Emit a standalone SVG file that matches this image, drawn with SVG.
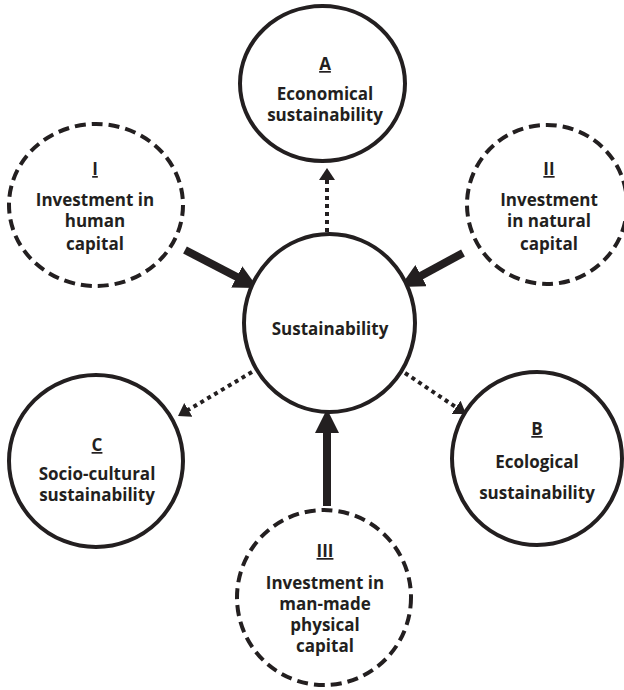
<svg xmlns="http://www.w3.org/2000/svg" width="624" height="690" viewBox="0 0 624 690">
<style>
  .solid { fill: #ffffff; stroke: #231f20; stroke-width: 4; }
  .dashed { fill: #ffffff; stroke: #231f20; stroke-width: 4; stroke-dasharray: 11 6; }
  .lbl { font-family: "Open Sans", "Noto Sans", "Liberation Sans", sans-serif; font-weight: 700; font-size: 17px; fill: #231f20; text-anchor: middle; }
  .u { text-decoration: underline; }
  .thick { stroke: #231f20; stroke-width: 8; fill: none; marker-end: url(#bigArrow); }
  .dots { stroke: #231f20; stroke-width: 4; stroke-dasharray: 4 4; fill: none; marker-end: url(#smallArrow); }
</style>
<defs>
  <marker id="bigArrow" viewBox="0 0 24 24" refX="10" refY="12" markerWidth="24" markerHeight="24" markerUnits="userSpaceOnUse" orient="auto">
    <path d="M0,0 L24,12 L0,24 z" fill="#231f20"/>
  </marker>
  <marker id="smallArrow" viewBox="0 0 12 16" refX="4" refY="8" markerWidth="12" markerHeight="16" markerUnits="userSpaceOnUse" orient="auto">
    <path d="M0,0 L12,8 L0,16 z" fill="#231f20"/>
  </marker>
</defs>

<g id="connectors">
  <line class="thick" x1="185" y1="250" x2="245.6" y2="281.5"/>
  <line class="thick" x1="463" y1="253" x2="412.3" y2="280.4"/>
  <line class="thick" x1="327" y1="506" x2="327" y2="423"/>
  <line class="dots" x1="327" y1="232" x2="327" y2="176"/>
  <line class="dots" x1="252" y1="372" x2="184.9" y2="411.9"/>
  <line class="dots" x1="405" y1="373" x2="459.4" y2="409.5"/>
</g>

<g id="nodeA">
  <ellipse class="solid" cx="322.5" cy="83.5" rx="82.5" ry="77.5"/>
  <text class="lbl u" x="325" y="70">A</text>
  <text class="lbl" x="325" y="100">Economical</text>
  <text class="lbl" x="325" y="121">sustainability</text>
</g>

<g id="nodeI">
  <ellipse class="dashed" cx="96" cy="205" rx="87" ry="81"/>
  <text class="lbl u" x="95" y="175">I</text>
  <text class="lbl" x="95" y="206">Investment in</text>
  <text class="lbl" x="95" y="227">human</text>
  <text class="lbl" x="95" y="250">capital</text>
</g>

<g id="nodeII">
  <ellipse class="dashed" cx="547" cy="204.5" rx="80" ry="79.5"/>
  <text class="lbl u" x="549" y="175">II</text>
  <text class="lbl" x="549" y="206">Investment</text>
  <text class="lbl" x="549" y="227">in natural</text>
  <text class="lbl" x="549" y="250">capital</text>
</g>

<g id="nodeCenter">
  <ellipse class="solid" cx="329.5" cy="323" rx="85.5" ry="89"/>
  <text class="lbl" x="330" y="335">Sustainability</text>
</g>

<g id="nodeC">
  <ellipse class="solid" cx="96" cy="461" rx="87" ry="86"/>
  <text class="lbl u" x="97" y="451">C</text>
  <text class="lbl" x="97" y="480">Socio-cultural</text>
  <text class="lbl" x="97" y="501">sustainability</text>
</g>

<g id="nodeB">
  <ellipse class="solid" cx="537" cy="458.5" rx="85" ry="86.5"/>
  <text class="lbl u" x="537" y="435">B</text>
  <text class="lbl" x="537" y="468">Ecological</text>
  <text class="lbl" x="537" y="499">sustainability</text>
</g>

<g id="nodeIII">
  <ellipse class="dashed" cx="324" cy="597.5" rx="87" ry="87.5"/>
  <text class="lbl u" x="325" y="557">III</text>
  <text class="lbl" x="325" y="589">Investment in</text>
  <text class="lbl" x="325" y="610">man-made</text>
  <text class="lbl" x="325" y="631">physical</text>
  <text class="lbl" x="325" y="652">capital</text>
</g>
</svg>
